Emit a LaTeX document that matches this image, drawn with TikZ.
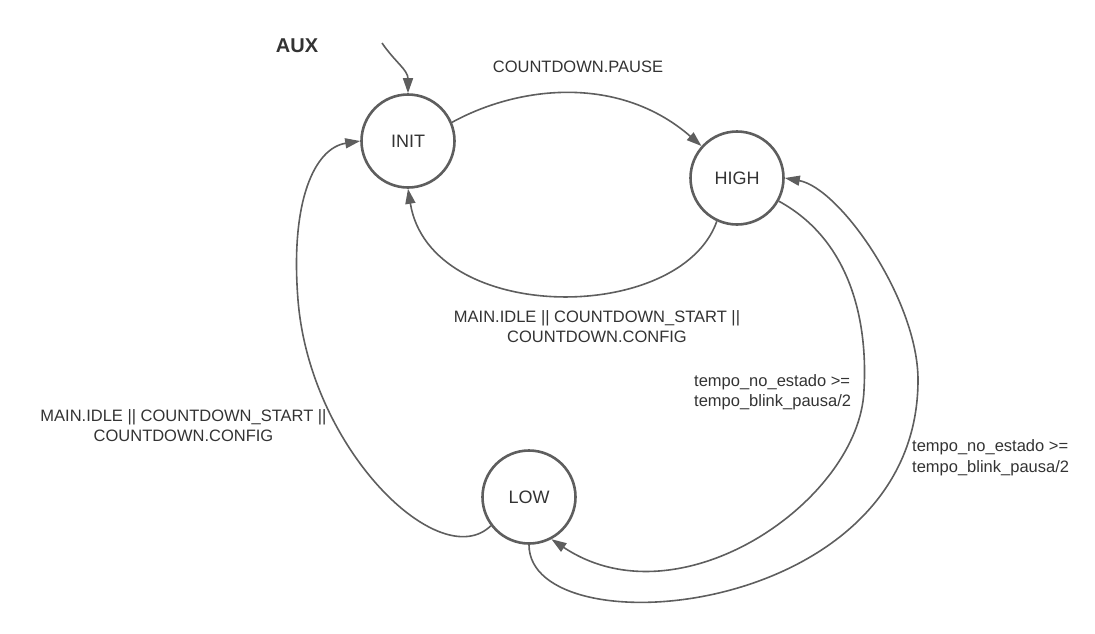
\documentclass[tikz,border=0pt]{standalone}
\usepackage{fontspec}
\setmainfont{Liberation Sans}
\usetikzlibrary{arrows.meta}
\definecolor{linegray}{HTML}{5E5E5E}
\definecolor{textgray}{HTML}{333333}
\tikzset{
  state/.style={circle, draw=linegray, line width=2.6pt, minimum size=93pt,
    inner sep=0pt, text=textgray, font=\fontsize{18}{22}\selectfont},
  trans/.style={draw=linegray, line width=1.6pt,
    -{Triangle[length=15pt,width=10pt]}},
  lbl/.style={text=textgray, align=center, inner sep=0pt,
    font=\fontsize{16.5}{20.5}\selectfont}
}
\begin{document}
\begin{tikzpicture}[x=1pt,y=-1pt]
  \useasboundingbox (0,0) rectangle (1095,633);

  % States
  \node[state] (init) at (408,141) {INIT};
  \node[state] (high) at (737,178) {HIGH};
  \node[state] (low)  at (529,497) {LOW};

  % Initial state
  \node[lbl, font=\fontsize{20}{24}\selectfont\bfseries] (aux) at (297,46) {AUX};
  \coordinate (auxstart) at (382,43);
  \draw[trans] (auxstart) .. controls (395,62) and (408,70) .. (init.north);

  % INIT -> HIGH
  \draw[trans] (init.23) .. controls (520,85) and (620,75) .. (high.138);
  \node[lbl] (pause) at (578,67) {COUNTDOWN.PAUSE};

  % HIGH -> INIT
  \draw[trans] (high.-115) .. controls (680,325) and (430,325) .. (init.south);
  \node[lbl] (backhigh) at (597,326.5) {MAIN.IDLE || COUNTDOWN\_START ||\\COUNTDOWN.CONFIG};

  % LOW -> INIT
  \draw[trans] (low.217) .. controls (440,575) and (310,450) .. (298,300)
    .. controls (290,200) and (315,148) .. (init.west);
  \node[lbl] (backlow) at (183.5,425.5) {MAIN.IDLE || COUNTDOWN\_START ||\\COUNTDOWN.CONFIG};

  % HIGH -> LOW
  \draw[trans] (high.-29) .. controls (850,240) and (868,320) .. (864,390)
    .. controls (860,500) and (680,625) .. (low.-62);
  \node[lbl, anchor=west, align=left] (tolow) at (694,392) {tempo\_no\_estado >=\\tempo\_blink\_pausa/2};

  % LOW -> HIGH
  \draw[trans] (low.south) .. controls (529,650) and (918,620) .. (918,380)
    .. controls (918,300) and (840,188) .. (high.east);
  \node[lbl, anchor=west, align=left] (tohigh) at (912,457.5) {tempo\_no\_estado >=\\tempo\_blink\_pausa/2};

\end{tikzpicture}
\end{document}
